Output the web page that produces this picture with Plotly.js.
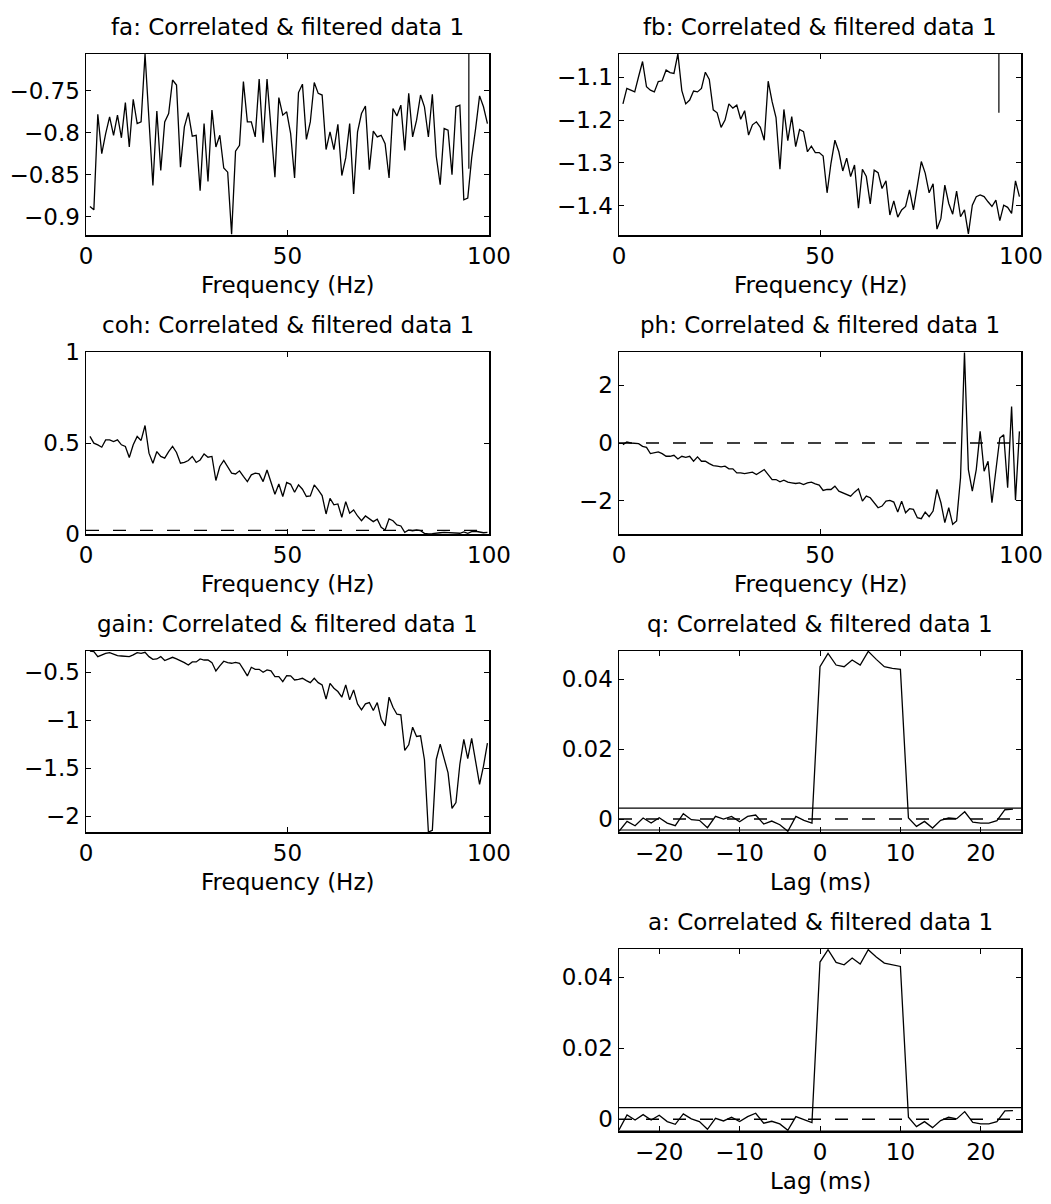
<!DOCTYPE html>
<html>
<head>
<meta charset="utf-8">
<script src="https://cdn.plot.ly/plotly-3.0.1.min.js"></script>
<style>html,body{margin:0;padding:0;background:#fff;}</style>
</head>
<body>
<div id="chart" style="width:1051px;height:1204px;"></div>
<script>
// ---------- data ----------
const freq = [0.98,1.95,2.93,3.91,4.88,5.86,6.84,7.81,8.79,9.77,
10.74,11.72,12.70,13.67,14.65,15.63,16.60,17.58,18.55,19.53,
20.51,21.48,22.46,23.44,24.41,25.39,26.37,27.34,28.32,29.30,
30.27,31.25,32.23,33.20,34.18,35.16,36.13,37.11,38.09,39.06,
40.04,41.02,41.99,42.97,43.95,44.92,45.90,46.88,47.85,48.83,
49.80,50.78,51.76,52.73,53.71,54.69,55.66,56.64,57.62,58.59,
59.57,60.55,61.52,62.50,63.48,64.45,65.43,66.41,67.38,68.36,
69.34,70.31,71.29,72.27,73.24,74.22,75.20,76.17,77.15,78.13,
79.10,80.08,81.05,82.03,83.01,83.98,84.96,85.94,86.91,87.89,
88.87,89.84,90.82,91.80,92.77,93.75,94.73,95.70,96.68,97.66,
98.63,99.61];

const fa = [-0.888,-0.892,-0.778,-0.825,-0.801,-0.781,-0.803,-0.779,-0.806,-0.764,
-0.817,-0.760,-0.789,-0.787,-0.706,-0.790,-0.863,-0.774,-0.845,-0.787,
-0.777,-0.737,-0.743,-0.841,-0.793,-0.776,-0.804,-0.803,-0.869,-0.789,
-0.858,-0.773,-0.817,-0.803,-0.842,-0.847,-0.921,-0.822,-0.815,-0.739,
-0.787,-0.787,-0.805,-0.736,-0.812,-0.736,-0.797,-0.853,-0.758,-0.779,
-0.775,-0.801,-0.854,-0.752,-0.742,-0.808,-0.787,-0.740,-0.753,-0.755,
-0.820,-0.799,-0.820,-0.790,-0.851,-0.830,-0.789,-0.873,-0.799,-0.777,
-0.768,-0.844,-0.798,-0.805,-0.803,-0.813,-0.854,-0.771,-0.780,-0.767,
-0.821,-0.753,-0.805,-0.785,-0.755,-0.769,-0.805,-0.754,-0.828,-0.862,
-0.795,-0.797,-0.850,-0.769,-0.767,-0.880,-0.878,-0.830,-0.795,-0.756,
-0.769,-0.789];

const fb = [-1.162,-1.126,-1.130,-1.134,-1.098,-1.063,-1.122,-1.130,-1.134,-1.110,
-1.108,-1.083,-1.089,-1.091,-1.045,-1.131,-1.162,-1.153,-1.132,-1.134,
-1.126,-1.088,-1.105,-1.176,-1.183,-1.217,-1.200,-1.162,-1.172,-1.165,
-1.198,-1.178,-1.235,-1.211,-1.204,-1.217,-1.247,-1.109,-1.157,-1.194,
-1.315,-1.175,-1.248,-1.192,-1.262,-1.222,-1.227,-1.274,-1.261,-1.276,
-1.276,-1.284,-1.370,-1.301,-1.247,-1.274,-1.319,-1.289,-1.332,-1.305,
-1.406,-1.315,-1.332,-1.396,-1.317,-1.323,-1.360,-1.342,-1.422,-1.389,
-1.427,-1.410,-1.402,-1.363,-1.410,-1.356,-1.297,-1.324,-1.370,-1.349,
-1.455,-1.430,-1.352,-1.395,-1.420,-1.366,-1.426,-1.410,-1.466,-1.399,
-1.379,-1.375,-1.379,-1.391,-1.402,-1.387,-1.435,-1.399,-1.404,-1.418,
-1.342,-1.379];

const coh = [0.536,0.499,0.490,0.477,0.517,0.517,0.508,0.517,0.490,0.481,
0.420,0.490,0.536,0.514,0.596,0.444,0.389,0.453,0.426,0.417,
0.453,0.481,0.448,0.389,0.394,0.404,0.426,0.393,0.407,0.440,
0.422,0.426,0.294,0.371,0.404,0.371,0.334,0.330,0.347,0.316,
0.288,0.325,0.334,0.330,0.288,0.352,0.288,0.218,0.275,0.206,
0.283,0.273,0.229,0.270,0.246,0.206,0.209,0.270,0.242,0.211,
0.110,0.196,0.160,0.165,0.092,0.178,0.114,0.132,0.099,0.073,
0.099,0.086,0.068,0.081,0.037,0.022,0.083,0.073,0.050,0.044,
0.009,0.022,0.018,0.022,0.018,0.004,0.000,0.002,0.006,0.007,
0.009,0.007,0.004,0.006,0.004,0.011,0.004,0.013,0.015,0.011,
0.007,0.009];

const ph = [-0.057,0.034,0.000,0.000,-0.023,-0.115,-0.149,-0.367,-0.344,-0.309,
-0.367,-0.458,-0.458,-0.424,-0.550,-0.458,-0.493,-0.458,-0.630,-0.481,
-0.630,-0.630,-0.711,-0.779,-0.802,-0.825,-0.802,-0.894,-0.894,-1.032,
-1.032,-1.054,-1.032,-1.009,-1.089,-1.009,-0.917,-1.089,-1.261,-1.261,
-1.341,-1.284,-1.352,-1.375,-1.398,-1.375,-1.433,-1.375,-1.352,-1.410,
-1.456,-1.639,-1.605,-1.605,-1.490,-1.662,-1.719,-1.777,-1.834,-1.696,
-1.582,-2.006,-1.834,-1.891,-2.063,-2.235,-2.178,-2.006,-1.983,-2.040,
-2.384,-2.006,-2.407,-2.269,-2.292,-2.579,-2.613,-2.384,-2.544,-2.350,
-1.605,-2.063,-2.751,-2.235,-2.808,-2.693,-1.200,3.120,-0.917,-1.662,
-0.917,0.401,-0.974,-0.630,-2.063,-0.917,0.172,0.287,-1.547,1.261,
-1.971,0.401];

const gain = [-0.278,-0.285,-0.337,-0.319,-0.302,-0.295,-0.312,-0.326,-0.330,-0.337,
-0.337,-0.319,-0.295,-0.302,-0.292,-0.337,-0.365,-0.361,-0.337,-0.378,
-0.361,-0.344,-0.361,-0.378,-0.399,-0.424,-0.392,-0.392,-0.361,-0.372,
-0.372,-0.399,-0.486,-0.434,-0.385,-0.399,-0.406,-0.396,-0.406,-0.469,
-0.538,-0.448,-0.469,-0.469,-0.500,-0.476,-0.486,-0.545,-0.545,-0.597,
-0.535,-0.538,-0.580,-0.573,-0.563,-0.587,-0.608,-0.563,-0.608,-0.632,
-0.781,-0.615,-0.667,-0.701,-0.760,-0.632,-0.788,-0.684,-0.830,-0.892,
-0.830,-0.816,-0.899,-0.816,-0.990,-1.059,-0.760,-0.865,-0.938,-0.944,
-1.316,-1.257,-1.073,-1.170,-1.163,-1.413,-2.167,-2.150,-1.410,-1.250,
-1.400,-1.550,-1.920,-1.860,-1.460,-1.200,-1.400,-1.190,-1.430,-1.670,
-1.480,-1.240];

const lag = [-25,-24,-23,-22,-21,-20,-19,-18,-17,-16,-15,-14,-13,-12,-11,-10,-9,-8,-7,-6,
-5,-4,-3,-2,-1,0,1,2,3,4,5,6,7,8,9,10,11,12,13,14,15,16,17,18,19,20,21,22,23,24];

const q = [-0.0035,-0.00067,-0.0019,0.00029,-0.00114,0.00038,-0.00114,-0.0019,0.00152,-0.00019,
-0.00038,-0.00247,0.00076,0.0,0.00076,-0.00076,0.00076,0.00114,-0.00143,-0.00057,
-0.00162,-0.0035,0.00076,-0.00038,-0.00114,0.04352,0.04732,0.04399,0.04352,0.04542,
0.04399,0.04789,0.04561,0.04352,0.04304,0.04276,0.00029,-0.00209,-0.00067,-0.00257,
-0.00038,0.00029,0.0001,0.00209,-0.00086,-0.00114,-0.00114,-0.00048,0.00266,0.00285];

const a = [-0.0030,0.00122,-0.00019,0.0013,-0.00019,0.00113,-0.00066,-0.00141,0.0015,0.0001,
-0.00066,-0.00282,0.00028,-0.00047,0.00056,-0.00066,0.00075,0.00169,-0.0011,-0.00056,
-0.00131,-0.0031,0.00075,0.0,-0.00094,0.04423,0.0477,0.04413,0.04347,0.04535,
0.04366,0.0477,0.04563,0.04394,0.04347,0.0430,0.00056,-0.00207,-0.00066,-0.00235,
-0.00038,0.00056,0.0001,0.00216,-0.00085,-0.00131,-0.00131,-0.00066,0.00235,0.00244];

// reference / confidence levels
const cohLimit = 0.02;
const phRef = 0;
const qLimit = 0.00313;
const aLimit = 0.0033;
const faBarX = 95,   faBarY = [-0.706, -0.843];
const fbBarX = 94.5, fbBarY = [-1.045, -1.183];
const freqSpan = [0, 100];
const lagSpan = [-25, 25];

// titles and tick labels
const titles = ['fa: Correlated & filtered data 1','fb: Correlated & filtered data 1',
  'coh: Correlated & filtered data 1','ph: Correlated & filtered data 1',
  'gain: Correlated & filtered data 1','q: Correlated & filtered data 1',
  'a: Correlated & filtered data 1'];
const freqLabel = 'Frequency (Hz)';
const lagLabel = 'Lag (ms)';
const xLabels = [freqLabel, freqLabel, freqLabel, freqLabel, freqLabel, lagLabel, lagLabel];
const freqTicks = [0, 50, 100];
const freqTickText = ['0', '50', '100'];
const lagTicks = [-20, -10, 0, 10, 20];
const lagTickText = ['\u221220', '\u221210', '0', '10', '20'];
const faTicks = [-0.9, -0.85, -0.8, -0.75];
const faTickText = ['\u22120.9', '\u22120.85', '\u22120.8', '\u22120.75'];
const fbTicks = [-1.4, -1.3, -1.2, -1.1];
const fbTickText = ['\u22121.4', '\u22121.3', '\u22121.2', '\u22121.1'];
const cohTicks = [0, 0.5, 1];
const cohTickText = ['0', '0.5', '1'];
const phTicks = [-2, 0, 2];
const phTickText = ['\u22122', '0', '2'];
const gainTicks = [-2, -1.5, -1, -0.5];
const gainTickText = ['\u22122', '\u22121.5', '\u22121', '\u22120.5'];
const qTicks = [0, 0.02, 0.04];
const qTickText = ['0', '0.02', '0.04'];

// ---------- layout geometry ----------
const W = 1051, H = 1204;
const colL = [86 / W, 489 / W], colR = [619 / W, 1021 / W];
function rowDom(top, bot) { return [1 - bot / H, 1 - top / H]; }
const row1 = rowDom(54, 235), row2 = rowDom(352, 534), row3 = rowDom(651, 832), row4 = rowDom(949, 1131);

const FONT = 'DejaVu Sans, Liberation Sans, Arial, sans-serif';
const FS = 23;

function axisBase(dom, range, tv, tt, anchor) {
  return {
    domain: dom, range: range, anchor: anchor, autorange: false,
    tickmode: 'array', tickvals: tv, ticktext: tt,
    ticks: 'inside', ticklen: 5, tickwidth: 1, tickcolor: '#000',
    showline: true, linecolor: '#000', linewidth: 1.5, mirror: 'ticks',
    showgrid: false, zeroline: false, fixedrange: true,
    tickfont: {family: FONT, size: FS, color: '#000'}
  };
}

const line = {color: '#000', width: 1.3};
const dash = {color: '#000', width: 1.4, dash: '13px,14px'};
const solid = {color: '#000', width: 1.2};

const traces = [
  {x: freq, y: fa, xaxis: 'x', yaxis: 'y', mode: 'lines', line: line},
  {x: [faBarX, faBarX], y: faBarY, xaxis: 'x', yaxis: 'y', mode: 'lines', line: solid},
  {x: freq, y: fb, xaxis: 'x2', yaxis: 'y2', mode: 'lines', line: line},
  {x: [fbBarX, fbBarX], y: fbBarY, xaxis: 'x2', yaxis: 'y2', mode: 'lines', line: solid},
  {x: freq, y: coh, xaxis: 'x3', yaxis: 'y3', mode: 'lines', line: line},
  {x: freqSpan, y: [cohLimit, cohLimit], xaxis: 'x3', yaxis: 'y3', mode: 'lines', line: dash},
  {x: freq, y: ph, xaxis: 'x4', yaxis: 'y4', mode: 'lines', line: line},
  {x: freqSpan, y: [phRef, phRef], xaxis: 'x4', yaxis: 'y4', mode: 'lines', line: dash},
  {x: freq, y: gain, xaxis: 'x5', yaxis: 'y5', mode: 'lines', line: line},
  {x: lag, y: q, xaxis: 'x6', yaxis: 'y6', mode: 'lines', line: line},
  {x: lagSpan, y: [0, 0], xaxis: 'x6', yaxis: 'y6', mode: 'lines', line: dash},
  {x: lagSpan, y: [qLimit, qLimit], xaxis: 'x6', yaxis: 'y6', mode: 'lines', line: solid},
  {x: lagSpan, y: [-qLimit, -qLimit], xaxis: 'x6', yaxis: 'y6', mode: 'lines', line: solid},
  {x: lag, y: a, xaxis: 'x7', yaxis: 'y7', mode: 'lines', line: line},
  {x: lagSpan, y: [0, 0], xaxis: 'x7', yaxis: 'y7', mode: 'lines', line: dash},
  {x: lagSpan, y: [aLimit, aLimit], xaxis: 'x7', yaxis: 'y7', mode: 'lines', line: solid},
  {x: lagSpan, y: [-aLimit, -aLimit], xaxis: 'x7', yaxis: 'y7', mode: 'lines', line: solid}
].map(t => Object.assign({showlegend: false, hoverinfo: 'skip'}, t));

const doms = [[colL, row1], [colR, row1], [colL, row2], [colR, row2], [colL, row3], [colR, row3], [colR, row4]];
const txtFont = {family: FONT, size: FS, color: '#000'};
const annotations = [];
titles.forEach((t, i) => {
  const cx = (doms[i][0][0] + doms[i][0][1]) / 2;
  annotations.push({
    text: t, xref: 'paper', yref: 'paper', x: cx, y: doms[i][1][1],
    xanchor: 'center', yanchor: 'bottom', yshift: 12, showarrow: false, font: txtFont
  });
  annotations.push({
    text: xLabels[i], xref: 'paper', yref: 'paper', x: cx, y: doms[i][1][0],
    xanchor: 'center', yanchor: 'top', yshift: -35, showarrow: false, font: txtFont
  });
});

const layout = {
  width: W, height: H, margin: {l: 0, r: 0, t: 0, b: 0},
  paper_bgcolor: '#fff', plot_bgcolor: '#fff', showlegend: false,
  font: txtFont,
  xaxis:  axisBase(colL, freqSpan, freqTicks, freqTickText, 'y'),
  yaxis:  axisBase(row1, [-0.922, -0.706], faTicks, faTickText, 'x'),
  xaxis2: axisBase(colR, freqSpan, freqTicks, freqTickText, 'y2'),
  yaxis2: axisBase(row1, [-1.4687, -1.0454], fbTicks, fbTickText, 'x2'),
  xaxis3: axisBase(colL, freqSpan, freqTicks, freqTickText, 'y3'),
  yaxis3: axisBase(row2, [0, 1], cohTicks, cohTickText, 'x3'),
  xaxis4: axisBase(colR, freqSpan, freqTicks, freqTickText, 'y4'),
  yaxis4: axisBase(row2, [-3.1416, 3.1416], phTicks, phTickText, 'x4'),
  xaxis5: axisBase(colL, freqSpan, freqTicks, freqTickText, 'y5'),
  yaxis5: axisBase(row3, [-2.167, -0.278], gainTicks, gainTickText, 'x5'),
  xaxis6: axisBase(colR, lagSpan, lagTicks, lagTickText, 'y6'),
  yaxis6: axisBase(row3, [-0.0037, 0.048], qTicks, qTickText, 'x6'),
  xaxis7: axisBase(colR, lagSpan, lagTicks, lagTickText, 'y7'),
  yaxis7: axisBase(row4, [-0.0033, 0.0479], qTicks, qTickText, 'x7'),
  annotations: annotations
};

Plotly.newPlot('chart', traces, layout, {staticPlot: true, displayModeBar: false});
</script>
</body>
</html>
